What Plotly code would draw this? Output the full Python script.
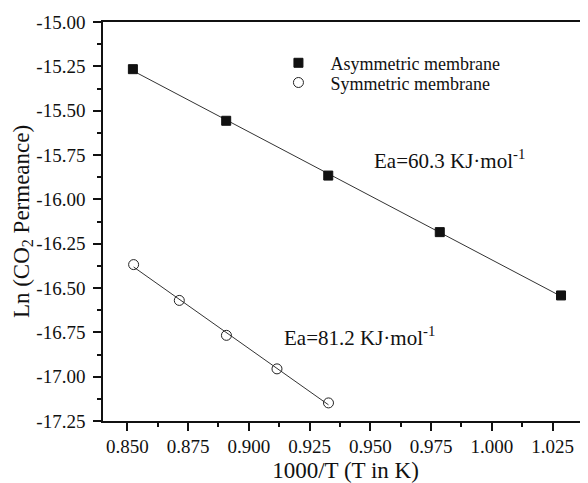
import numpy as np
import plotly.graph_objects as go

# ---- data ----
asym_x = [0.8523, 0.8907, 0.9327, 0.9786, 1.0285]
asym_y = [-15.266, -15.557, -15.866, -16.185, -16.542]
sym_x = [0.8526, 0.8714, 0.8908, 0.9116, 0.9328]
sym_y = [-16.368, -16.570, -16.767, -16.956, -17.148]

asym_name = "Asymmetric membrane"
sym_name = "Symmetric membrane"
ea_asym = "Ea=60.3 KJ·mol<sup>-1</sup>"
ea_sym = "Ea=81.2 KJ·mol<sup>-1</sup>"

x_ticks = [0.850, 0.875, 0.900, 0.925, 0.950, 0.975, 1.000, 1.025]
x_tick_labels = ["0.850", "0.875", "0.900", "0.925", "0.950", "0.975", "1.000", "1.025"]
y_ticks = [-15.00, -15.25, -15.50, -15.75, -16.00, -16.25, -16.50, -16.75, -17.00, -17.25]
y_tick_labels = ["-15.00", "-15.25", "-15.50", "-15.75", "-16.00", "-16.25", "-16.50", "-16.75", "-17.00", "-17.25"]

FONT = "Liberation Serif, Times New Roman, serif"
INK = "#111111"

fig = go.Figure()

# fitted lines (least squares from the data)
for xs, ys in [(asym_x, asym_y), (sym_x, sym_y)]:
    k, b = np.polyfit(xs, ys, 1)
    lx = np.array([min(xs), max(xs)])
    fig.add_trace(go.Scatter(x=lx, y=k * lx + b, mode="lines",
                             line=dict(color="#333333", width=1),
                             showlegend=False, hoverinfo="skip"))

fig.add_trace(go.Scatter(x=asym_x, y=asym_y, mode="markers", name=asym_name,
                         legend="legend",
                         marker=dict(symbol="square", size=9, color="#111111",
                                     line=dict(color="#111111", width=1))))
fig.add_trace(go.Scatter(x=sym_x, y=sym_y, mode="markers", name=sym_name,
                         legend="legend2",
                         marker=dict(symbol="circle-open", size=10, color="#222222",
                                     line=dict(width=1))))

fig.add_annotation(x=0.9505, y=-15.773, xref="x", yref="y", text=ea_asym,
                   showarrow=False, xanchor="left", yanchor="middle",
                   font=dict(family=FONT, size=21, color=INK))
fig.add_annotation(x=0.9135, y=-16.775, xref="x", yref="y", text=ea_sym,
                   showarrow=False, xanchor="left", yanchor="middle",
                   font=dict(family=FONT, size=21, color=INK))

axis_common = dict(showgrid=False, zeroline=False, showline=True, linecolor=INK,
                   linewidth=1.5, ticks="outside", ticklen=8, tickwidth=1.5,
                   tickcolor=INK, automargin=False,
                   tickfont=dict(family=FONT, size=19, color=INK))

fig.update_xaxes(range=[0.840, 1.0396], tickvals=x_ticks, ticktext=x_tick_labels,
                 mirror=True, ticklabelstandoff=-1,
                 minor=dict(dtick=0.0125, tick0=0.8375, ticks="outside", ticklen=4,
                            tickwidth=1.5, tickcolor=INK),
                 title=dict(text="1000/T (T in K)", standoff=10,
                            font=dict(family=FONT, size=23, color=INK)),
                 **axis_common)
fig.update_yaxes(range=[-17.25, -15.00], tickvals=y_ticks, ticktext=y_tick_labels,
                 ticklabelstandoff=4,
                 minor=dict(dtick=0.125, tick0=-15.125, ticks="outside", ticklen=4,
                            tickwidth=1.5, tickcolor=INK),
                 title=dict(text="Ln (CO<sub>2</sub> Permeance)", standoff=0,
                            font=dict(family=FONT, size=23, color=INK)),
                 **axis_common)

legend_common = dict(xanchor="left", yanchor="top", bgcolor="rgba(0,0,0,0)",
                     borderwidth=0, font=dict(family=FONT, size=18, color=INK),
                     itemwidth=54)

# the page body adds an 8px offset, so the figure is sized to end at the window edge
fig.update_layout(
    width=580, height=475,
    margin=dict(l=95, r=0, t=14, b=62),
    paper_bgcolor="white", plot_bgcolor="white",
    showlegend=True,
    legend=dict(x=0.337, y=0.9434, **legend_common),
    legend2=dict(x=0.337, y=0.894, **legend_common),
)

fig.write_html("out.html")
